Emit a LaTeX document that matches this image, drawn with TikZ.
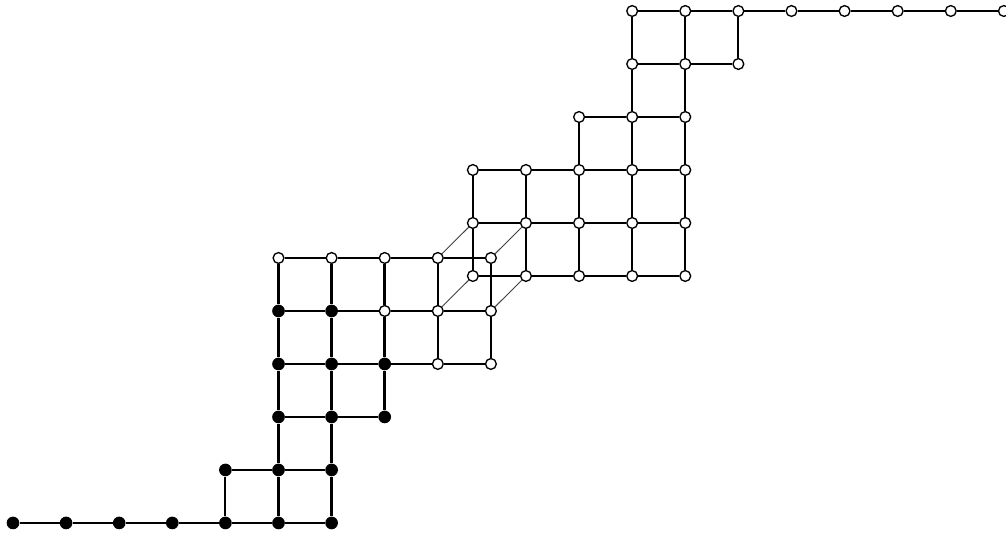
\documentclass[tikz,border=0pt]{standalone}
\usepackage{tikz}
\begin{document}
\begin{tikzpicture}[
  x=39.83pt,y=39.75pt,
  on/.style={circle,fill=black,inner sep=0pt,minimum size=9.5pt},
  off/.style={circle,draw=black,fill=white,line width=1pt,inner sep=0pt,minimum size=8.1pt},
  edge/.style={line width=1.5pt},
  heavy/.style={line width=2.1pt},
  heavier/.style={line width=2.5pt},
  link/.style={line width=0.7pt,black!75}
]
\useasboundingbox (-0.2448,-0.2075) rectangle (18.70,9.868);
% lower block
\node[on] (p00) at (0,0) {};
\node[on] (p10) at (1,0) {};
\node[on] (p20) at (2,0) {};
\node[on] (p30) at (3,0) {};
\node[on] (p40) at (4,0) {};
\node[on] (p50) at (5,0) {};
\node[on] (p60) at (6,0) {};
\node[on] (p41) at (4,1) {};
\node[on] (p51) at (5,1) {};
\node[on] (p61) at (6,1) {};
\node[on] (p52) at (5,2) {};
\node[on] (p62) at (6,2) {};
\node[on] (p72) at (7,2) {};
\node[on] (p53) at (5,3) {};
\node[on] (p63) at (6,3) {};
\node[on] (p73) at (7,3) {};
\node[off] (p83) at (8,3) {};
\node[off] (p93) at (9,3) {};
\node[on] (p54) at (5,4) {};
\node[on] (p64) at (6,4) {};
\node[off] (p74) at (7,4) {};
\node[off] (p84) at (8,4) {};
\node[off] (p94) at (9,4) {};
\node[off] (p55) at (5,5) {};
\node[off] (p65) at (6,5) {};
\node[off] (p75) at (7,5) {};
\node[off] (p85) at (8,5) {};
\node[off] (p95) at (9,5) {};
% upper block
\node[off] (q00) at (8.66,4.66) {};
\node[off] (q10) at (9.66,4.66) {};
\node[off] (q20) at (10.66,4.66) {};
\node[off] (q30) at (11.66,4.66) {};
\node[off] (q40) at (12.66,4.66) {};
\node[off] (q01) at (8.66,5.66) {};
\node[off] (q11) at (9.66,5.66) {};
\node[off] (q21) at (10.66,5.66) {};
\node[off] (q31) at (11.66,5.66) {};
\node[off] (q41) at (12.66,5.66) {};
\node[off] (q02) at (8.66,6.66) {};
\node[off] (q12) at (9.66,6.66) {};
\node[off] (q22) at (10.66,6.66) {};
\node[off] (q32) at (11.66,6.66) {};
\node[off] (q42) at (12.66,6.66) {};
\node[off] (q23) at (10.66,7.66) {};
\node[off] (q33) at (11.66,7.66) {};
\node[off] (q43) at (12.66,7.66) {};
\node[off] (q34) at (11.66,8.66) {};
\node[off] (q44) at (12.66,8.66) {};
\node[off] (q54) at (13.66,8.66) {};
\node[off] (q35) at (11.66,9.66) {};
\node[off] (q45) at (12.66,9.66) {};
\node[off] (q55) at (13.66,9.66) {};
\node[off] (q65) at (14.66,9.66) {};
\node[off] (q75) at (15.66,9.66) {};
\node[off] (q85) at (16.66,9.66) {};
\node[off] (q95) at (17.66,9.66) {};
\node[off] (qa5) at (18.66,9.66) {};
% rows
\draw[heavy] (p00) -- (p10) -- (p20) -- (p30) -- (p40) -- (p50) -- (p60);
\draw[edge] (p41) -- (p51) -- (p61);
\draw[edge] (p52) -- (p62) -- (p72);
\draw[edge] (p53) -- (p63) -- (p73) -- (p83) -- (p93);
\draw[edge] (p54) -- (p64) -- (p74) -- (p84) -- (p94);
\draw[edge] (p55) -- (p65) -- (p75) -- (p85) -- (p95);
\draw[edge] (q00) -- (q10) -- (q20) -- (q30) -- (q40);
\draw[edge] (q01) -- (q11) -- (q21) -- (q31) -- (q41);
\draw[edge] (q02) -- (q12) -- (q22) -- (q32) -- (q42);
\draw[edge] (q23) -- (q33) -- (q43);
\draw[edge] (q34) -- (q44) -- (q54);
\draw[edge] (q35) -- (q45) -- (q55) -- (q65) -- (q75) -- (q85) -- (q95) -- (qa5);
% columns
\draw[edge] (p40) -- (p41);
\draw[heavier] (p50) -- (p51) -- (p52) -- (p53) -- (p54) -- (p55);
\draw[heavy] (p60) -- (p61) -- (p62) -- (p63) -- (p64) -- (p65);
\draw[heavy] (p72) -- (p73) -- (p74) -- (p75);
\draw[edge] (p83) -- (p84) -- (p85);
\draw[edge] (p93) -- (p94) -- (p95);
\draw[edge] (q00) -- (q01) -- (q02);
\draw[heavy] (q10) -- (q11) -- (q12);
\draw[heavy] (q20) -- (q21) -- (q22) -- (q23);
\draw[edge] (q30) -- (q31) -- (q32) -- (q33) -- (q34) -- (q35);
\draw[edge] (q40) -- (q41) -- (q42) -- (q43) -- (q44) -- (q45);
\draw[edge] (q54) -- (q55);
% links between the blocks
\draw[link] (p84) -- (q00);
\draw[link] (p94) -- (q10);
\draw[link] (p85) -- (q01);
\draw[link] (p95) -- (q11);
\end{tikzpicture}
\end{document}
